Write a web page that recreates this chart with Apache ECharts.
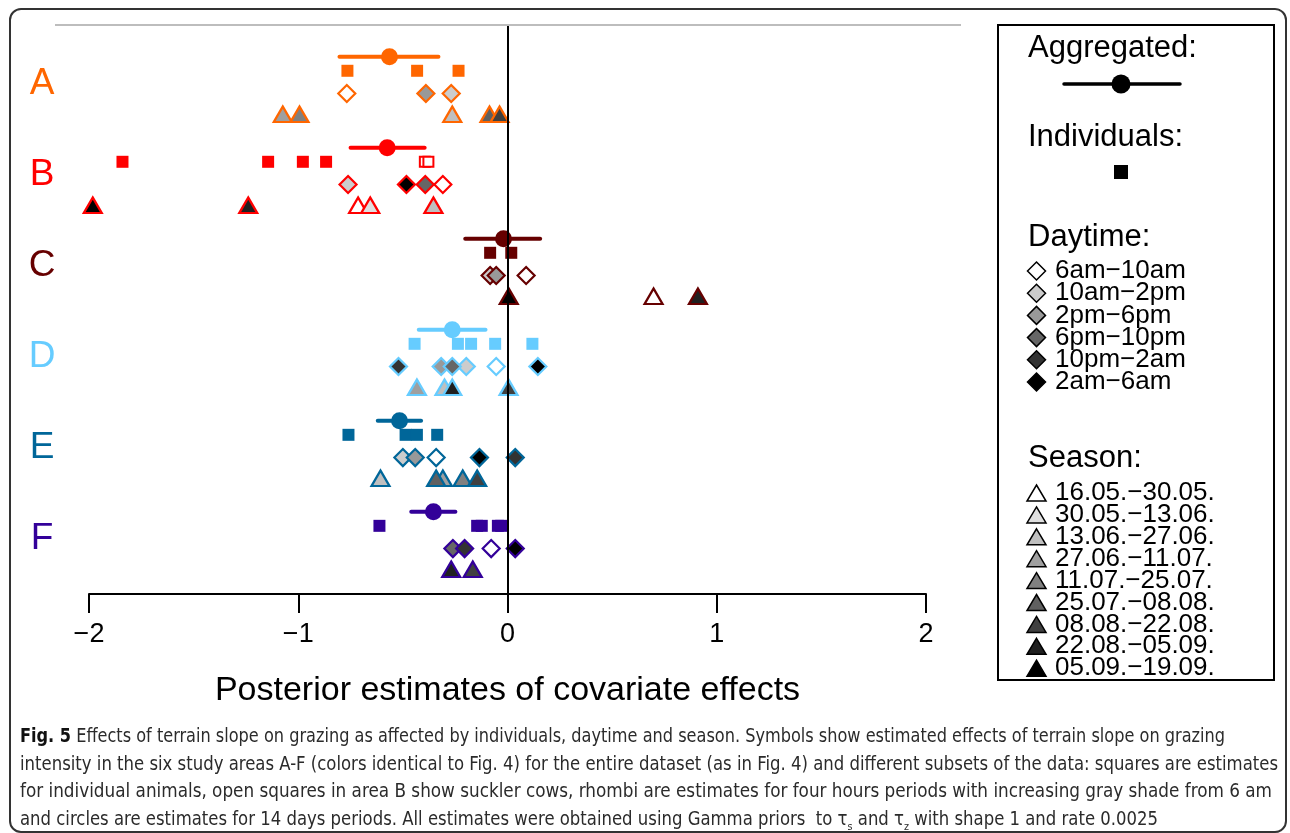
<!DOCTYPE html>
<html><head><meta charset="utf-8">
<script src="https://cdn.jsdelivr.net/npm/echarts@6/dist/echarts.min.js"></script>
<style>
html,body{margin:0;padding:0;background:#fff;}
#wrap{position:relative;width:1290px;height:833px;overflow:hidden;background:#fff;}
#chart{position:absolute;left:0;top:0;width:1290px;height:833px;}
#frame{position:absolute;left:9px;top:8px;width:1278px;height:825px;border:2px solid #333;border-radius:12px;box-sizing:border-box;pointer-events:none;}
#topline{position:absolute;left:55px;top:24px;width:906px;height:2px;background:#bdbdbd;}
#caption{position:absolute;left:20px;top:722px;font-family:'Liberation Sans Narrow','DejaVu Sans Condensed','Liberation Sans',sans-serif;font-size:19px;color:#2b2b2b;}
#caption .ln{display:block;white-space:nowrap;width:max-content;height:27.6px;line-height:27.6px;transform-origin:0 50%;}
#caption b{color:#111;}
#caption sub{font-size:11px;line-height:0;}
</style></head>
<body>
<div id="wrap">
<div id="chart"></div>
<div id="topline"></div>
<div id="frame"></div>
<div id="caption">
<span class="ln" data-w="1205"><b>Fig. 5</b> Effects of terrain slope on grazing as affected by individuals, daytime and season. Symbols show estimated effects of terrain slope on grazing</span>
<span class="ln" data-w="1258">intensity in the six study areas A-F (colors identical to Fig. 4) for the entire dataset (as in Fig. 4) and different subsets of the data: squares are estimates</span>
<span class="ln" data-w="1252">for individual animals, open squares in area B show suckler cows, rhombi are estimates for four hours periods with increasing gray shade from 6 am</span>
<span class="ln" data-w="1138">and circles are estimates for 14 days periods. All estimates were obtained using Gamma priors &nbsp;to τ<sub>s</sub> and τ<sub>z</sub> with shape 1 and rate 0.0025</span>
</div>
</div>
<script>
// ---------- data ----------
const areaNames = ['A','B','C','D','E','F'];
const areaColors = ['#FF6600','#FF0000','#660000','#66CCFF','#006699','#330099'];
const aggMean = [-0.564, -0.575, -0.019, -0.264, -0.516, -0.354];
const aggLow  = [-0.803, -0.750, -0.202, -0.424, -0.620, -0.460];
const aggHigh = [-0.330, -0.396,  0.156, -0.105, -0.413, -0.249];
const indA = [-0.765, -0.432, -0.234];
const indB = [-1.840, -1.144, -0.978, -0.867];
const indC = [-0.083, 0.018];
const indD = [-0.444, -0.237, -0.174, -0.059, 0.119];
const indE = [-0.760, -0.487, -0.433, -0.336];
const indF = [-0.612, -0.145, -0.123, -0.046, -0.030];
const sucklerB = [-0.395, -0.378];
// [estimate, daytime period index]
const dayA = [[-0.768,0],[-0.269,1],[-0.390,2]];
const dayB = [[-0.309,0],[-0.762,1],[-0.393,3],[-0.483,5]];
const dayC = [[0.089,0],[-0.083,1],[-0.054,2]];
const dayD = [[-0.054,0],[-0.197,1],[-0.317,2],[-0.264,3],[-0.521,4],[0.145,5]];
const dayE = [[-0.341,0],[-0.500,1],[-0.441,2],[0.037,4],[-0.134,5]];
const dayF = [[-0.078,0],[-0.261,3],[-0.205,4],[0.037,5]];
// [estimate, season period index]
const seaA = [[-0.264,2],[-1.074,3],[-0.994,4],[-0.086,5],[-0.038,6]];
const seaB = [[-0.714,0],[-0.656,1],[-0.354,2],[-1.239,7],[-1.982,8]];
const seaC = [[0.698,0],[0.910,7],[0.006,8]];
const seaD = [[-0.301,2],[-0.433,3],[0.005,6],[-0.264,7]];
const seaE = [[-0.607,2],[-0.309,3],[-0.214,4],[-0.341,5],[-0.145,6]];
const seaF = [[-0.166,6],[-0.269,7]];
const dayLabels = ['6am\u221210am','10am\u22122pm','2pm\u22126pm','6pm\u221210pm','10pm\u22122am','2am\u22126am'];
const seasonLabels = ['16.05.\u221230.05.','30.05.\u221213.06.','13.06.\u221227.06.','27.06.\u221211.07.','11.07.\u221225.07.','25.07.\u221208.08.','08.08.\u221222.08.','22.08.\u221205.09.','05.09.\u221219.09.'];
const xTitle = 'Posterior estimates of covariate effects';

// ---------- styling helpers ----------
const FONT = "'Liberation Sans', Helvetica, Arial, sans-serif";
const ROW = {agg: 0, ind: 0.155, day: 0.405, sea: 0.632, letter: 0.30};
function gray(level){ const v = Math.round(level*255); const h = v.toString(16).padStart(2,'0'); return '#'+h+h+h; }
const dayShade = i => gray(1 - i/5);
const seaShade = i => gray(1 - i/8);

const inds = [indA, indB, indC, indD, indE, indF];
const days = [dayA, dayB, dayC, dayD, dayE, dayF];
const seas = [seaA, seaB, seaC, seaD, seaE, seaF];

const series = [];
// zero reference line
series.push({
  type:'line', data:[], silent:true, z:1,
  markLine:{silent:true, symbol:['none','none'], label:{show:false},
    lineStyle:{color:'#000', width:2, type:'solid'}, data:[{xAxis:0}], animation:false}
});
areaNames.forEach((name, g) => {
  const col = areaColors[g];
  series.push({type:'line', data:[[aggLow[g], g+ROW.agg],[aggHigh[g], g+ROW.agg]], symbol:'none', silent:true, z:2,
    lineStyle:{color:col, width:4, cap:'round'}});
  series.push({type:'scatter', data:[[aggMean[g], g+ROW.agg]], symbol:'circle', symbolSize:17, clip:false, z:3,
    itemStyle:{color:col, opacity:1}});
  series.push({type:'scatter', data:inds[g].map(v=>[v, g+ROW.ind]), symbol:'rect', symbolSize:12, clip:false, z:3,
    itemStyle:{color:col, opacity:1}});
  if (g === 1) {
    series.push({type:'scatter', data:sucklerB.map(v=>[v, g+ROW.ind]), symbol:'rect', symbolSize:10, clip:false, z:3,
      itemStyle:{color:'#fff', borderColor:col, borderWidth:2, opacity:1}});
  }
  series.push({type:'scatter', clip:false, z:3, symbol:'diamond', symbolSize:17,
    data:days[g].map(d=>({value:[d[0], g+ROW.day], itemStyle:{color:dayShade(d[1]), borderColor:col, borderWidth:2.2, opacity:1}}))});
  series.push({type:'scatter', clip:false, z:3, symbol:'triangle', symbolSize:[18,15.5],
    data:seas[g].map(d=>({value:[d[0], g+ROW.sea], itemStyle:{color:seaShade(d[1]), borderColor:col, borderWidth:2.2, opacity:1}}))});
});

// ---------- legend (graphic) ----------
const LX = 998, LT = 25, LW = 276, LH = 655;
const graphic = [];
graphic.push({type:'rect', shape:{x:LX, y:LT, width:LW, height:LH}, style:{fill:'none', stroke:'#000', lineWidth:2}, silent:true});
function head(text, y){ graphic.push({type:'text', style:{x:1028, y:y, text:text, font:'31px '+FONT, fill:'#000', verticalAlign:'middle'}, silent:true}); }
head('Aggregated:', 48);
graphic.push({type:'line', shape:{x1:1064, y1:84, x2:1180, y2:84}, style:{stroke:'#000', lineWidth:3.5, lineCap:'round'}, silent:true});
graphic.push({type:'circle', shape:{cx:1121, cy:84, r:9.5}, style:{fill:'#000'}, silent:true});
head('Individuals:', 137);
graphic.push({type:'rect', shape:{x:1114, y:165, width:14, height:14}, style:{fill:'#000'}, silent:true});
head('Daytime:', 237);
dayLabels.forEach((t,i)=>{
  const cy = 271 + i*22.2, cx = 1036.5, r = 9;
  graphic.push({type:'polygon', shape:{points:[[cx,cy-r],[cx+r,cy],[cx,cy+r],[cx-r,cy]]}, style:{fill:dayShade(i), stroke:'#000', lineWidth:1.5}, silent:true});
  graphic.push({type:'text', style:{x:1055, y:cy, text:t, font:'26px '+FONT, fill:'#000', verticalAlign:'middle'}, silent:true});
});
head('Season:', 458);
seasonLabels.forEach((t,i)=>{
  const cy = 493 + i*21.9, cx = 1036.5, hw = 9.5, hh = 8;
  graphic.push({type:'polygon', shape:{points:[[cx,cy-hh],[cx+hw,cy+hh],[cx-hw,cy+hh]]}, style:{fill:seaShade(i), stroke:'#000', lineWidth:1.5}, silent:true});
  graphic.push({type:'text', style:{x:1055, y:cy, text:t, font:'26px '+FONT, fill:'#000', verticalAlign:'middle'}, silent:true});
});

const chart = echarts.init(document.getElementById('chart'), null, {renderer:'canvas'});
chart.setOption({
  animation:false,
  backgroundColor:'#fff',
  grid:{left:89, right:364, top:25, bottom:239, containLabel:false},
  xAxis:{type:'value', min:-2, max:2, interval:1,
    axisLine:{show:true, onZero:false, lineStyle:{color:'#000', width:2}},
    axisTick:{show:true, length:19, lineStyle:{color:'#000', width:2}},
    splitLine:{show:false},
    axisLabel:{fontSize:27, color:'#000', fontFamily:FONT, margin:27,
      formatter:v=>String(v).replace('-', '\u2212')},
    name:xTitle, nameLocation:'middle', nameGap:80,
    nameTextStyle:{fontSize:34, color:'#000', fontFamily:FONT}},
  yAxis:{type:'value', inverse:true, min:-0.348, max:5.904, show:false},
  series:series,
  graphic:graphic
});

// area letters, positioned through the axes' scales
const letterGraphics = areaNames.map((n,g)=>{
  const p = chart.convertToPixel({gridIndex:0}, [-2, g+ROW.letter]);
  return {type:'text', silent:true, style:{x:p[0]-47, y:p[1], text:n, font:'37px '+FONT, fill:areaColors[g], align:'center', verticalAlign:'middle'}};
});
chart.setOption({graphic: graphic.concat(letterGraphics)});

// caption fitting
document.querySelectorAll('#caption .ln').forEach(el=>{
  const target = parseFloat(el.dataset.w);
  const w = el.getBoundingClientRect().width;
  if (w > 0) el.style.transform = 'scaleX(' + (target / w) + ')';
});
</script>
</body></html>
